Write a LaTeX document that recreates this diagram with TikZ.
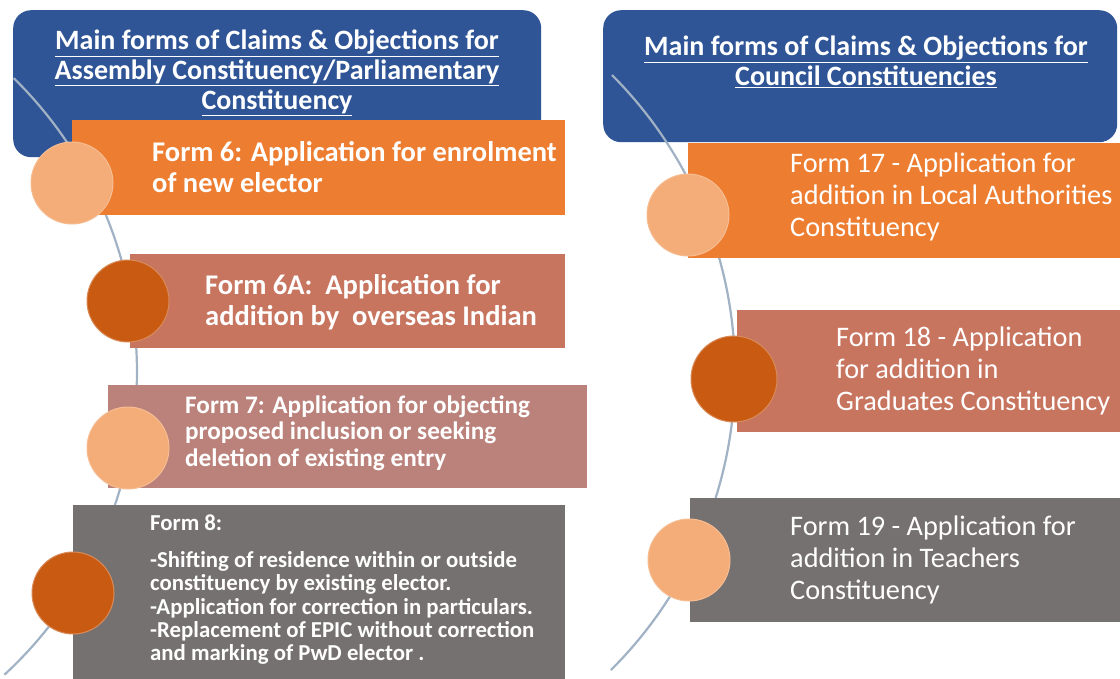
\documentclass[tikz,border=0pt]{standalone}
\usepackage{fontspec}
\setmainfont{Carlito}
\definecolor{blueH}{RGB}{47,85,151}
\definecolor{orangeB}{RGB}{237,125,49}
\definecolor{salmonB}{RGB}{200,117,96}
\definecolor{roseB}{RGB}{186,130,122}
\definecolor{grayB}{RGB}{118,113,113}
\definecolor{lightC}{RGB}{244,172,120}
\definecolor{darkC}{RGB}{200,90,18}
\definecolor{arcC}{RGB}{160,178,196}
\begin{document}
\begin{tikzpicture}[x=1pt,y=-1pt,
  hdr/.style={rectangle, fill=blueH, rounded corners=18pt, anchor=north west, inner sep=0pt},
  box/.style={rectangle, anchor=north west, inner sep=0pt},
  dot/.style={circle, minimum size=82pt, inner sep=0pt},
  lightdot/.style={dot, fill=lightC, draw=lightC!80!white, line width=1pt},
  darkdot/.style={dot, fill=darkC, draw=darkC!70!white, line width=1pt},
  lbl/.style={anchor=west, align=left, text=white, inner sep=0pt},
  htxt/.style={align=center, text=white, inner sep=0pt, font=\bfseries\fontsize{28}{30}\selectfont},
  arcline/.style={draw=arcC, line width=2.2pt},
  bigb/.style={font=\bfseries\fontsize{28.5}{30.5}\selectfont},
  midb/.style={font=\bfseries\fontsize{25.2}{26.5}\selectfont},
  smallb/.style={font=\bfseries\fontsize{22.8}{23.25}\selectfont},
  reg/.style={font=\fontsize{28.3}{32}\selectfont},
]
\useasboundingbox (0,0) rectangle (1120,678);
\fill[white] (0,0) rectangle (1120,678);

% headers
\node[hdr, minimum width=528pt, minimum height=147pt] (hL) at (13,10) {};
\node[hdr, minimum width=514pt, minimum height=132pt] (hR) at (603,10) {};

% timeline arcs
\draw[arcline] plot[domain=-45.5:47.3, samples=80] ({-275+412*cos(\x)}, {372+412*sin(\x)});
\draw[arcline] plot[domain=-45:45.2, samples=80] ({315+420*cos(\x)}, {372+420*sin(\x)});

% boxes left
\node[box, fill=orangeB, minimum width=493pt, minimum height=95pt] (f6) at (72,120) {};
\node[box, fill=salmonB, minimum width=435pt, minimum height=94pt] (f6a) at (130,254) {};
\node[box, fill=roseB, minimum width=479pt, minimum height=103pt] (f7) at (108,385) {};
\node[box, fill=grayB, minimum width=492pt, minimum height=174pt] (f8) at (73,505) {};
% boxes right
\node[box, fill=orangeB, minimum width=432pt, minimum height=115pt] (f17) at (688,143) {};
\node[box, fill=salmonB, minimum width=383pt, minimum height=122pt] (f18) at (737,310) {};
\node[box, fill=grayB, minimum width=430pt, minimum height=124pt] (f19) at (690,498) {};

% circles
\node[lightdot] (c1) at (72,183) {};
\node[darkdot] (c2) at (128,301) {};
\node[lightdot] (c3) at (128,448) {};
\node[darkdot] (c4) at (73,593) {};
\node[lightdot] (r1) at (688,215) {};
\node[darkdot, minimum size=86pt] (r2) at (734,379) {};
\node[lightdot] (r3) at (689,560) {};

% header texts
\node[htxt] (hLt) at (277,73) {\underline{Main forms of Claims \& Objections for}\\ \underline{Assembly Constituency/Parliamentary}\\ \underline{Constituency}};
\node[htxt] (hRt) at (866,62) {\underline{Main forms of Claims \& Objections for}\\ \underline{Council Constituencies}};

% left texts
\node[lbl, bigb] (t6) at (152,167) {Form 6: Application for enrolment\\of new elector};
\node[lbl, bigb] (t6a) at (205,302) {Form 6A:\ \ Application for\\addition by\ \ overseas Indian};
\node[lbl, midb] (t7) at (185,433) {Form 7: Application for objecting\\proposed inclusion or seeking\\deletion of existing entry};
\node[lbl, smallb] (t8h) at (150,523) {Form 8:};
\node[lbl, smallb] (t8) at (150,608) {-Shifting of residence within or outside\\constituency by existing elector.\\-Application for correction in particulars.\\-Replacement of EPIC without correction\\and marking of PwD elector .};

% right texts
\node[lbl, reg] (t17) at (790,197) {Form 17 - Application for\\addition in Local Authorities\\Constituency};
\node[lbl, reg] (t18) at (836,371) {Form 18 - Application\\for addition in\\Graduates Constituency};
\node[lbl, reg] (t19) at (790,560) {Form 19 - Application for\\addition in Teachers\\Constituency};
\end{tikzpicture}
\end{document}
